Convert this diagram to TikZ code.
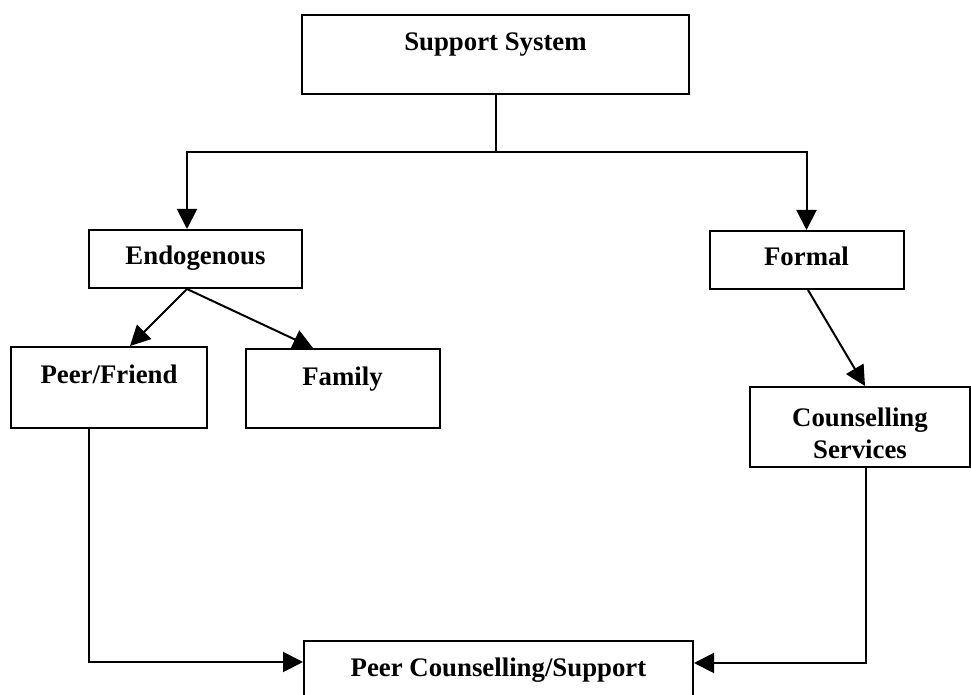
\documentclass[tikz,border=0pt]{standalone}
\usepackage{fontspec}
\setmainfont{Liberation Serif}
\usetikzlibrary{arrows.meta,calc}
\begin{document}
\begin{tikzpicture}[x=0.5pt,y=-0.5pt,
  box/.style={draw, line width=1pt, inner sep=0pt, anchor=north,
    font=\fontsize{13.4}{16.5}\selectfont\bfseries},
  conn/.style={line width=1pt},
  arr/.style={line width=1pt, -{Triangle[length=10pt,width=10pt]}}]
\clip (0,0) rectangle (971,695);
\fill[white] (0,0) rectangle (971,695);

\node[box, minimum width=193.5pt, text height=18pt, text depth=21.5pt] (sup) at (495.5,14) {Support System};
\node[box, minimum width=106.5pt, text height=17.5pt, text depth=11.5pt] (endo) at (195.5,229) {Endogenous};
\node[box, minimum width=97pt, text height=17.5pt, text depth=11.5pt] (form) at (806.5,230) {Formal};
\node[box, minimum width=98pt, text height=18.5pt, text depth=22pt] (pf) at (109,346) {Peer/Friend};
\node[box, minimum width=97pt, text height=18.5pt, text depth=21pt] (fam) at (342.5,348) {Family};
\node[box, minimum width=110pt, text height=36pt, text depth=4pt] (cs) at (860,386)
  {\begin{tabular}[b]{@{}c@{}}Counselling\\Services\end{tabular}};
\node[box, minimum width=194.5pt, text height=17.5pt, text depth=25pt] (pc) at (498.5,640) {Peer Counselling/Support};

\coordinate (j) at (sup.south |- 0,152);
\draw[conn] (sup.south) -- (j);
\draw[arr] (j) -| ($(endo.north)+(-8.5,0)$);
\draw[arr] (j) -| (form.north);
\draw[arr] ($(endo.south)+(-8.5,0)$) -- ($(pf.north)+(21,0)$);
\draw[arr] ($(endo.south)+(-8.5,0)$) -- ($(fam.north)+(-29.5,0)$);
\draw[arr] ($(form.south)+(1.5,0)$) -- ($(cs.north)+(5,0)$);
\draw[arr] ($(pf.south)+(-20,0)$) |- ($(pc.north west)+(0,22)$);
\draw[arr] ($(cs.south)+(6,0)$) |- ($(pc.north east)+(0,23)$);
\end{tikzpicture}
\end{document}
